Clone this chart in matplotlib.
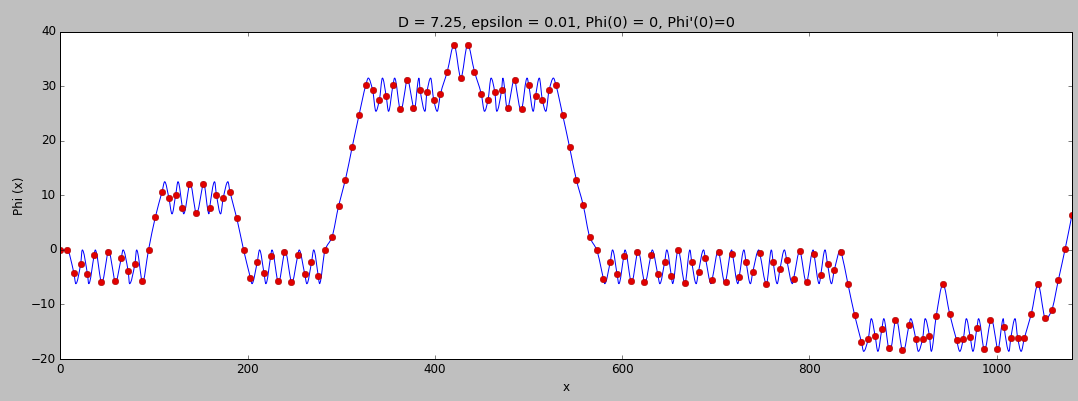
import matplotlib
matplotlib.use("Agg")
import matplotlib.pyplot as plt
from matplotlib.path import Path
from matplotlib.patches import PathPatch
import numpy as np

# sample spacing of the red dots
D = 7.25

# Phi at each sample point x = k*D, k = 0..149
phi_dots = [
    0.0, 0.0, -4.2, -2.6, -4.4, -0.9, -5.9, -0.3, -5.7, -1.4,
    -3.9, -2.5, -5.7, 0.0, 6.0, 10.7, 9.5, 10.1, 7.7, 12.0,
    6.7, 12.0, 7.7, 10.1, 9.5, 10.6, 5.8, 0.0, -5.1, -2.3,
    -4.2, -1.1, -5.7, -0.4, -5.9, -0.9, -4.4, -2.3, -4.8, 0.0,
    2.3, 8.1, 12.9, 18.9, 24.7, 30.2, 29.3, 27.5, 28.2, 30.2,
    25.8, 31.1, 26.1, 29.3, 28.9, 27.5, 28.6, 32.7, 37.6, 31.6,
    37.6, 32.7, 28.6, 27.5, 28.9, 29.3, 26.1, 31.1, 25.8, 30.2,
    28.2, 27.5, 29.3, 30.2, 24.7, 18.9, 12.9, 8.3, 2.3, 0.0,
    -5.3, -2.2, -4.4, -1.1, -5.7, -0.3, -5.9, -0.9, -4.5, -2.3,
    -4.8, 0.0, -6.1, -2.2, -4.0, -1.4, -5.5, -0.3, -5.9, -0.7,
    -4.9, -2.2, -4.0, -0.5, -6.2, -2.3, -3.5, -1.9, -5.3, -0.2,
    -5.9, -0.7, -4.6, -2.6, -3.7, -0.3, -6.2, -12.0, -16.9, -16.3,
    -15.7, -14.5, -18.0, -12.9, -18.3, -13.8, -16.3, -16.3, -15.7, -12.2,
    -6.3, -11.8, -16.5, -16.3, -15.9, -14.3, -18.2, -12.9, -18.2, -14.1,
    -16.1, -16.1, -16.1, -11.8, -6.3, -12.4, -11.1, -5.5, 0.2, 6.4,
]
x_dots = np.arange(len(phi_dots)) * D

# turning points of the blue curve that fall between the samples
turn_x = [
    16.6, 23.5, 30.4, 37.3, 43.9, 51.0, 58.4, 67.0, 74.0, 81.5, 87.5,
    111.5, 119.3, 125.7, 131.7, 138.3, 145.3, 152.8, 158.8, 164.8, 171.2, 179.0,
    204.6, 212.8, 219.5, 225.9, 232.6, 239.7, 246.9, 255.0, 263.3, 270.6, 276.8,
    328.9, 337.0, 344.0, 350.5, 357.0, 363.0, 370.0, 377.8, 383.0, 389.5, 395.5, 402.5,
    453.0, 460.0, 466.0, 472.5, 477.7, 485.5, 492.5, 498.5, 505.0, 511.5, 518.5, 526.6,
    581.3, 589.7, 596.4, 602.9, 609.6, 616.6, 623.9, 632.0, 640.2, 647.6, 653.8,
    672.3, 679.0, 686.9, 695.0, 702.9, 710.1, 717.0, 723.6, 730.0, 736.9, 745.9,
    759.3, 765.5, 773.2, 781.8, 790.0, 797.1, 804.0, 810.4, 816.6, 823.5, 833.2,
    857.8, 866.0, 873.0, 879.3, 886.0, 892.7, 900.2, 908.0, 916.2, 923.5, 930.0,
    960.5, 967.5, 974.5, 980.5, 986.5, 993.8, 1000.8, 1007.0, 1013.0, 1019.5, 1026.0,
    1052.3,
]
turn_y = [
    -6.2, 0.0, -6.2, 0.0, -6.2, 0.0, -6.2, 0.0, -6.2, 0.0, -6.2,
    12.5, 6.6, 12.5, 6.6, 12.5, 6.6, 12.5, 6.6, 12.5, 6.6, 12.5,
    -6.2, 0.0, -6.2, 0.0, -6.2, 0.0, -6.2, 0.0, -6.2, 0.0, -6.2,
    31.5, 25.4, 31.5, 25.4, 31.5, 25.4, 31.5, 25.4, 31.5, 25.4, 31.5, 25.4,
    25.4, 31.5, 25.4, 31.5, 25.4, 31.5, 25.4, 31.5, 25.4, 31.5, 25.4, 31.5,
    -6.2, 0.0, -6.2, 0.0, -6.2, 0.0, -6.2, 0.0, -6.2, 0.0, -6.2,
    0.0, -6.2, 0.0, -6.2, 0.0, -6.2, 0.0, -6.2, 0.0, -6.2, 0.0,
    0.0, -6.2, 0.0, -6.2, 0.0, -6.2, 0.0, -6.2, 0.0, -6.2, 0.0,
    -18.6, -12.6, -18.6, -12.6, -18.6, -12.6, -18.6, -12.6, -18.6, -12.6, -18.6,
    -18.6, -12.6, -18.6, -12.6, -18.6, -12.6, -18.6, -12.6, -18.6, -12.6, -18.6,
    -12.7,
]

# blue curve goes through the samples and the turning points
curve_x = np.concatenate([x_dots, turn_x])
curve_y = np.concatenate([phi_dots, turn_y])
is_turn = np.concatenate([np.zeros(len(x_dots), bool), np.ones(len(turn_x), bool)])
order = np.argsort(curve_x, kind='stable')
curve_x, curve_y, is_turn = curve_x[order], curve_y[order], is_turn[order]

# tangents for a smooth drawing: flat at turning points, shape preserving elsewhere
sec = np.diff(curve_y) / np.diff(curve_x)
slope = np.zeros(len(curve_x))
for i in range(1, len(curve_x) - 1):
    a, b = sec[i - 1], sec[i]
    if not is_turn[i] and a * b > 0:
        slope[i] = 2 / (1 / a + 1 / b)
slope[-1] = sec[-1]

verts = [(curve_x[0], curve_y[0])]
codes = [Path.MOVETO]
for i in range(len(curve_x) - 1):
    h = (curve_x[i + 1] - curve_x[i]) / 3
    verts += [(curve_x[i] + h, curve_y[i] + slope[i] * h),
              (curve_x[i + 1] - h, curve_y[i + 1] - slope[i + 1] * h),
              (curve_x[i + 1], curve_y[i + 1])]
    codes += [Path.CURVE4] * 3

plt.style.use('classic')
fig = plt.figure(figsize=(1078 / 72, 401 / 72), dpi=72)
fig.subplots_adjust(left=0.0559, right=0.9944, bottom=0.1047, top=0.921)
ax = fig.add_subplot(111)

ax.add_patch(PathPatch(Path(verts, codes), facecolor='none', edgecolor='b', linewidth=1))
ax.plot(x_dots, phi_dots, 'o', color='#e00000', markeredgecolor='#a00000',
        markeredgewidth=0.5, markersize=6.5)

ax.set_xlim(0, x_dots[-1])
ax.set_ylim(-20, 40)
ax.set_xlabel('x')
ax.set_ylabel('Phi (x)')
ax.set_title("D = 7.25, epsilon = 0.01, Phi(0) = 0, Phi'(0)=0")

fig.savefig('out.png', dpi=72, facecolor=fig.get_facecolor())
